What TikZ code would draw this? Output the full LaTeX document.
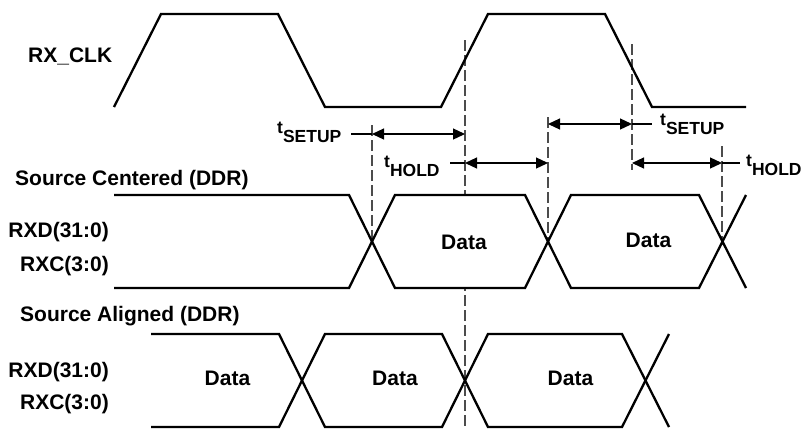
\documentclass[tikz,border=0pt]{standalone}
\usepackage{fontspec}
\setmainfont{Liberation Sans}
\usetikzlibrary{arrows.meta}
\begin{document}
\begin{tikzpicture}[x=1bp,y=-1bp,
  sig/.style={line width=2.3bp, line join=miter, line cap=butt},
  guide/.style={line width=1.1bp, draw=black!70, dash pattern=on 11bp off 4bp},
  dim/.style={line width=1.2bp, {Triangle[length=12bp,width=11bp]}-{Triangle[length=12bp,width=11bp]}},
  leader/.style={line width=1.2bp},
  lbl/.style={font=\fontsize{21bp}{25bp}\selectfont\bfseries, inner sep=0pt},
  tlbl/.style={font=\fontsize{17.5bp}{20bp}\selectfont\bfseries, inner sep=0pt, anchor=base west},
]
\useasboundingbox (0,0) rectangle (804,429);

% guide lines (dashed)
\draw[guide] (372,125) -- (372,241);
\draw[guide] (465,40) -- (465,429);
\draw[guide] (548,117) -- (548,241);
\draw[guide] (632,44) -- (632,170);
\draw[guide] (722,146) -- (722,245);

% RX_CLK
\draw[sig] (114,107) -- (161,14) -- (278,14) -- (325,107) -- (441,107)
  -- (488,14) -- (605,14) -- (652,107) -- (746,107);

% Source centered
\fill[white] (372,241.5) -- (395,195) -- (525,195) -- (548,241.5) -- (525,288) -- (395,288) -- cycle;
\draw[sig] (114,195) -- (349,195) -- (395,288) -- (525,288) -- (571,195) -- (699,195) -- (746,288);
\draw[sig] (114,288) -- (349,288) -- (395,195) -- (525,195) -- (571,288) -- (699,288) -- (746,195);

% Source aligned
\draw[sig] (151,334) -- (279,334) -- (325,427) -- (442,427) -- (488,334) -- (622,334) -- (669,427);
\draw[sig] (151,427) -- (279,427) -- (325,334) -- (442,334) -- (488,427) -- (622,427) -- (669,334);

% dimension arrows
\draw[dim] (372,134) -- (465,134);
\draw[leader] (351,134) -- (372,134);
\draw[dim] (465,163) -- (548,163);
\draw[leader] (450,163) -- (465,163);
\draw[dim] (548,124) -- (632,124);
\draw[leader] (632,124) -- (652,124);
\draw[dim] (632,163) -- (722,163);
\draw[leader] (722,163) -- (740,163);

% labels
\node[lbl, anchor=base west] (rxclk) at (28,62) {RX\_CLK};
\node[lbl, anchor=base west] (srccent) at (15,185) {Source Centered (DDR)};
\node[lbl, anchor=base east] (rxda) at (109,237) {RXD(31:0)};
\node[lbl, anchor=base east] (rxca) at (109,271) {RXC(3:0)};
\node[lbl, anchor=base west] (srcalig) at (20,321.5) {Source Aligned (DDR)};
\node[lbl, anchor=base east] (rxdb) at (109,377.5) {RXD(31:0)};
\node[lbl, anchor=base east] (rxcb) at (109,409) {RXC(3:0)};

\node[lbl, anchor=base] (dataa) at (464,249) {Data};
\node[lbl, anchor=base] (datab) at (648.5,247) {Data};
\node[lbl, anchor=base] (datac) at (227.5,385) {Data};
\node[lbl, anchor=base] (datad) at (395,385) {Data};
\node[lbl, anchor=base] (datae) at (570.5,385.5) {Data};

\node[tlbl] (tsua) at (277,133) {t\raisebox{-9bp}{SETUP}};
\node[tlbl] (tha) at (384,167) {t\raisebox{-9bp}{HOLD}};
\node[tlbl] (tsub) at (660,125) {t\raisebox{-9bp}{SETUP}};
\node[tlbl] (thb) at (746,166) {t\raisebox{-9bp}{HOLD}};
\end{tikzpicture}
\end{document}
